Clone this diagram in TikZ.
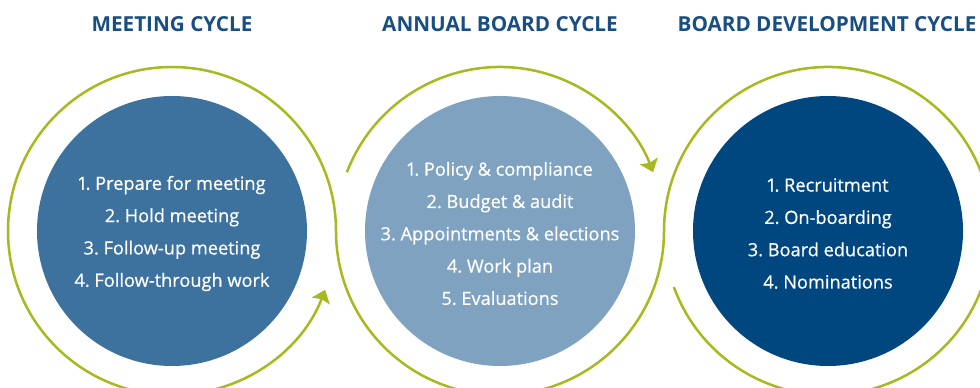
\documentclass[tikz,border=0pt]{standalone}
\usepackage{fontspec}
\setmainfont{Open Sans}
\newfontfamily\itemfont{Open Sans}[FakeBold=0.6,Numbers=Proportional]
\usetikzlibrary{arrows.meta}
\definecolor{ringgreen}{RGB}{168,185,32}
\definecolor{meetblue}{RGB}{62,114,158}
\definecolor{annualblue}{RGB}{126,162,192}
\definecolor{devblue}{RGB}{0,71,127}
\definecolor{titleblue}{RGB}{24,78,130}
\frenchspacing

\begin{document}
\begin{tikzpicture}[x=1pt,y=1pt,
	ring/.style={draw=ringgreen,line width=2.5pt},
	disc/.style={circle,minimum size=270pt,inner sep=0pt},
	items/.style={text=white,align=center,yshift=-2.5pt,font=\itemfont\fontsize{18.2}{32.3}\selectfont},
	heading/.style={text=titleblue,anchor=base,font=\bfseries\fontsize{20.7}{24}\selectfont},
	>={Stealth[length=12pt,width=19pt,inset=2pt]}]
	\useasboundingbox (0,0) rectangle (980,388);
	\clip (0,0) rectangle (980,388);
	\node[disc,fill=meetblue] (meeting) at (172,157) {};
	\node[disc,fill=annualblue] (annual) at (500,157) {};
	\node[disc,fill=devblue] (develop) at (828,157) {};
	\node[heading] (meetingtitle) at (172,356) {MEETING CYCLE};
	\node[heading] (annualtitle) at (500,356) {ANNUAL BOARD CYCLE};
	\node[heading] (developtitle) at (827,356) {BOARD DEVELOPMENT CYCLE};
	\node[items] (meetingitems) at (meeting) {1. Prepare for meeting\\2. Hold meeting\\3. Follow-up meeting\\4. Follow-through work};
	\node[items] (annualitems) at (annual) {1. Policy \& compliance\\2. Budget \& audit\\3. Appointments \& elections\\4. Work plan\\5. Evaluations};
	\node[items] (developitems) at (develop) {1. Recruitment\\2. On-boarding\\3. Board education\\4. Nominations};
	\draw[ring,->] (develop.center) ++(200:164) arc[start angle=200,end angle=540,radius=164]
		arc[start angle=0,end angle=-180,radius=164]
		arc[start angle=0,end angle=339,radius=164];
	\draw[ring,->] (annual.center) ++(159:164) arc[start angle=159,end angle=21,radius=164];
\end{tikzpicture}
\end{document}
